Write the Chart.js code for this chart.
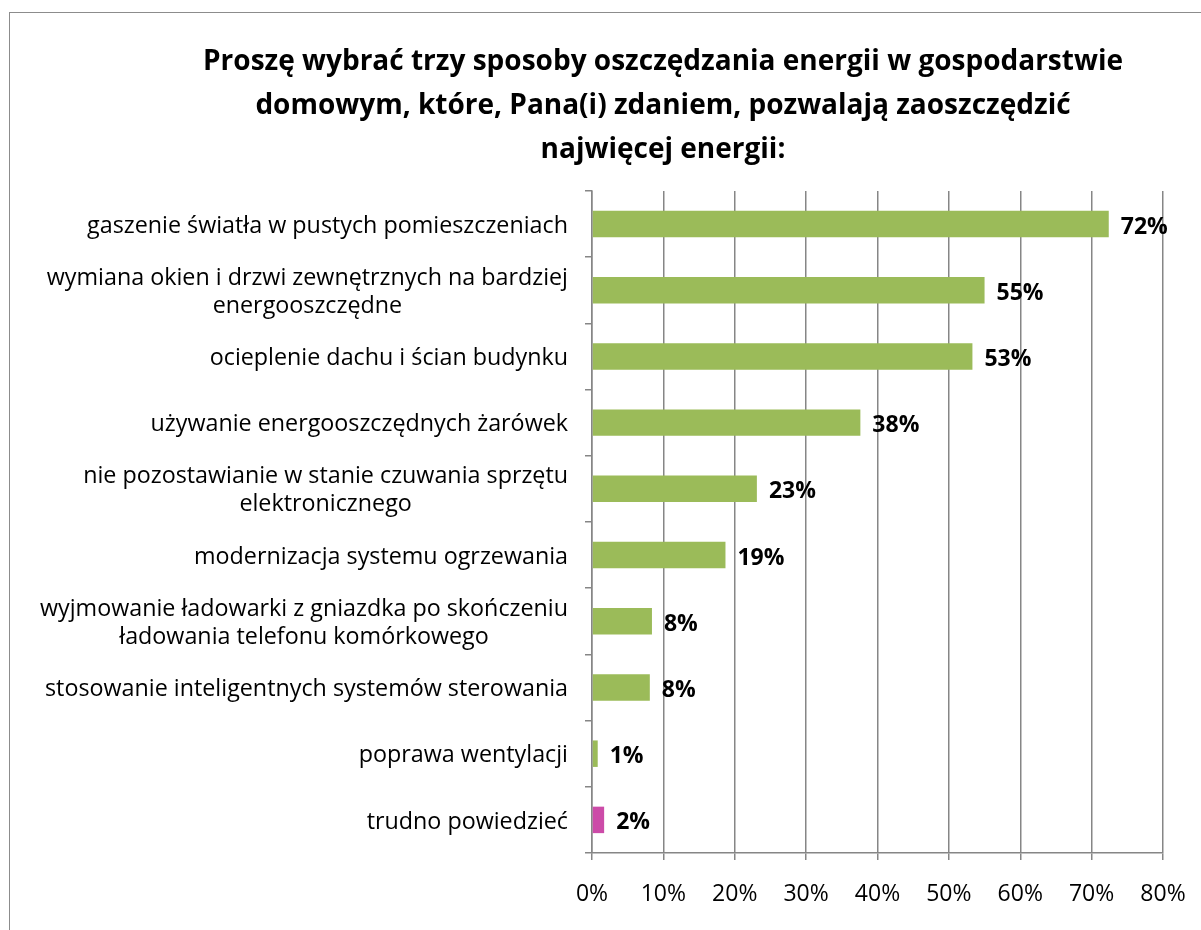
<!DOCTYPE html>
<html>
<head>
<meta charset="utf-8">
<script src="https://cdn.jsdelivr.net/npm/chart.js@4.4.0/dist/chart.umd.min.js"></script>
<style>
  body { margin: 0; background: #fff; }
  #wrap { position: relative; width: 1201px; height: 930px; overflow: hidden; }
  #frame { position: absolute; left: 9px; top: 12px; width: 1300px; height: 1000px; border: 1px solid #8c8c8c; pointer-events: none; }
</style>
</head>
<body>
<div id="wrap">
  <canvas id="chart" width="1201" height="930"></canvas>
  <div id="frame"></div>
</div>
<script>
// kategorie i wyniki
const categories = [
  ['gaszenie światła w pustych pomieszczeniach'],
  ['wymiana okien i drzwi zewnętrznych na bardziej', 'energooszczędne'],
  ['ocieplenie dachu i ścian budynku'],
  ['używanie energooszczędnych żarówek'],
  ['nie pozostawianie w stanie czuwania sprzętu', 'elektronicznego'],
  ['modernizacja systemu ogrzewania'],
  ['wyjmowanie ładowarki z gniazdka po skończeniu', 'ładowania telefonu komórkowego'],
  ['stosowanie inteligentnych systemów sterowania'],
  ['poprawa wentylacji'],
  ['trudno powiedzieć']
];
const values = [72.4, 55.0, 53.3, 37.6, 23.1, 18.7, 8.4, 8.1, 0.8, 1.7];
const valueLabels = ['72%', '55%', '53%', '38%', '23%', '19%', '8%', '8%', '1%', '2%'];
const xTicks = [0, 10, 20, 30, 40, 50, 60, 70, 80];
const titleLines = [
  'Proszę wybrać trzy sposoby oszczędzania energii w gospodarstwie',
  'domowym, które, Pana(i) zdaniem, pozwalają zaoszczędzić',
  'najwięcej energii:'
];

const GREEN = '#9bbb59';
const PINK = '#cc4ba8';
const GRID = '#868686';
const FONT = "'Open Sans', 'Liberation Sans', sans-serif";
const PAD_L = 163, PAD_R = 38;

// etykiety kategorii: blok wyrównany do prawej, linie wyśrodkowane
const catLabels = {
  id: 'catLabels',
  afterDraw(chart) {
    const ctx = chart.ctx, sc = chart.scales.y;
    ctx.save();
    ctx.font = '23.3px ' + FONT;
    ctx.fillStyle = '#000';
    ctx.textAlign = 'center';
    ctx.textBaseline = 'middle';
    const right = sc.right - 24;
    categories.forEach((lines, i) => {
      const y = sc.getPixelForTick(i);
      const w = Math.max(...lines.map(l => ctx.measureText(l).width));
      lines.forEach((l, k) => {
        ctx.fillText(l, right - w / 2, y + 2 + (k - (lines.length - 1) / 2) * 28);
      });
    });
    ctx.restore();
  }
};

// etykiety wartości przy słupkach
const valLabels = {
  id: 'valLabels',
  afterDatasetsDraw(chart) {
    const ctx = chart.ctx;
    ctx.save();
    ctx.font = 'bold 23px ' + FONT;
    ctx.fillStyle = '#000';
    ctx.textAlign = 'left';
    ctx.textBaseline = 'middle';
    chart.getDatasetMeta(0).data.forEach((bar, i) => {
      ctx.fillText(valueLabels[i], bar.x + 12, bar.y + 3);
    });
    ctx.restore();
  }
};

new Chart(document.getElementById('chart'), {
  type: 'bar',
  data: {
    labels: categories,
    datasets: [{
      data: values,
      backgroundColor: ctx => ctx.dataIndex === categories.length - 1 ? PINK : GREEN,
      categoryPercentage: 0.4,
      barPercentage: 1
    }]
  },
  options: {
    indexAxis: 'y',
    responsive: false,
    animation: false,
    layout: { padding: { left: PAD_L, right: PAD_R, top: 0, bottom: 0 } },
    plugins: {
      legend: { display: false },
      tooltip: { enabled: false },
      title: {
        display: true,
        text: titleLines,
        color: '#000',
        font: { family: FONT, size: 28, weight: 'bold', lineHeight: 1.57 },
        padding: { top: 40, bottom: 19 }
      }
    },
    scales: {
      x: {
        min: 0, max: 80,
        afterBuildTicks: s => { s.ticks = xTicks.map(v => ({ value: v })); },
        ticks: { callback: v => v + '%', color: '#000', font: { family: FONT, size: 23 }, padding: 21 },
        grid: { color: GRID, lineWidth: 1.5, tickLength: 7 },
        border: { color: GRID, width: 1.5 },
        afterFit: s => { s.height = 77; s.paddingLeft = 0; s.paddingRight = 0; }
      },
      y: {
        ticks: { display: false },
        grid: { drawOnChartArea: false, color: GRID, lineWidth: 1.5, tickLength: 7, offset: true },
        border: { color: GRID, width: 1.5 },
        afterFit: s => { s.width = 592 - PAD_L; }
      }
    }
  },
  plugins: [catLabels, valLabels]
});
</script>
</body>
</html>
